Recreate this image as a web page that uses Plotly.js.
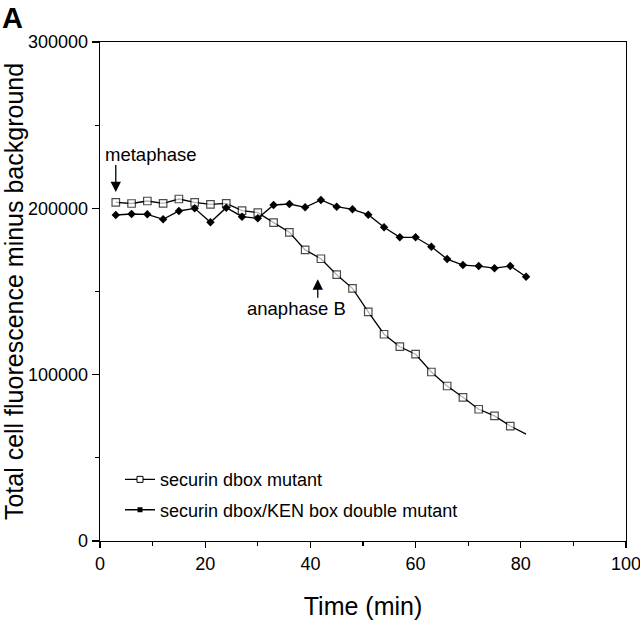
<!DOCTYPE html>
<html>
<head>
<meta charset="utf-8">
<script src="https://cdn.plot.ly/plotly-3.0.1.min.js"></script>
<style>html,body{margin:0;padding:0;background:#fff;}#chart{width:640px;height:620px;}</style>
</head>
<body>
<div id="chart"></div>
<script>
const time = [3,6,9,12,15,18,21,24,27,30,33,36,39,42,45,48,51,54,57,60,63,66,69,72,75,78,81];
const dboxMutant = [203600,202900,204400,203000,205600,203600,202400,203000,198600,197400,191400,
  185600,175000,169700,160100,151900,137700,124300,116800,112300,101600,93200,86400,79200,75200,69100,64300];
const doubleMutant = [196000,196600,196400,193400,198400,200000,191600,200400,195000,194000,202000,
  202600,200600,205000,201000,199400,196200,188600,182600,182600,176900,169500,165900,165300,164000,165300,158900];
const seriesNames = ["securin dbox mutant", "securin dbox/KEN box double mutant"];
const xTickVals = [0,20,40,60,80,100];
const yTickVals = [0,100000,200000,300000];

const FONT = "Liberation Sans, Arial, Helvetica, sans-serif";
const lastIdx = time.length - 1;

const traces = [
  {
    x: time, y: dboxMutant, mode: "lines+markers", showlegend: false,
    line: {color: "#000", width: 1.3},
    marker: {symbol: "square", color: "#ffffff", size: time.map((t,i)=> i===lastIdx ? 0 : 7.5),
             line: {color: "#000", width: 1.2}}
  },
  {
    x: time, y: doubleMutant, mode: "lines+markers", showlegend: false,
    line: {color: "#000", width: 1.3},
    marker: {symbol: "diamond", color: "#000", size: 6.5}
  },
  {
    x: [null], y: [null], mode: "lines+markers", name: seriesNames[0], legendgroup: "a",
    line: {color: "#000", width: 1.3},
    marker: {symbol: "square", color: "#fff", size: 6, line: {color: "#000", width: 1}}
  },
  {
    x: [null], y: [null], mode: "lines+markers", name: seriesNames[1], legendgroup: "b",
    line: {color: "#000", width: 1.3},
    marker: {symbol: "square", color: "#000", size: 5}
  }
];

const layout = {
  width: 640, height: 620,
  margin: {l: 100, r: 14, t: 42, b: 79},
  paper_bgcolor: "#fff", plot_bgcolor: "#fff",
  font: {family: FONT, color: "#000", size: 18},
  showlegend: true,
  legend: {x: 0.038, y: 0.16, xanchor: "left", yanchor: "top", bgcolor: "rgba(0,0,0,0)",
           font: {family: FONT, size: 18, color: "#000"}, traceorder: "grouped", tracegroupgap: 4},
  xaxis: {
    range: [0, 100], tickvals: xTickVals, ticks: "outside", ticklen: 6, tickwidth: 1.2, tickcolor: "#000",
    showline: true, linecolor: "#000", linewidth: 1.3, mirror: true, showgrid: false, zeroline: false,
    minor: {dtick: 10, ticks: "outside", ticklen: 4, tickwidth: 1.2, tickcolor: "#000", showgrid: false},
    tickfont: {family: FONT, size: 18, color: "#000"}, ticklabeloverflow: "allow",
    title: {text: "Time (min)", font: {family: FONT, size: 25, color: "#000"}, standoff: 28}
  },
  yaxis: {
    range: [0, 300000], tickvals: yTickVals, ticks: "outside", ticklen: 7, tickwidth: 1.2, tickcolor: "#000",
    showline: true, linecolor: "#000", linewidth: 1.3, mirror: true, showgrid: false, zeroline: false,
    minor: {dtick: 50000, ticks: "outside", ticklen: 4, tickwidth: 1.2, tickcolor: "#000", showgrid: false},
    tickfont: {family: FONT, size: 18, color: "#000"}, tickformat: "d",
    title: {text: "Total cell fluorescence minus background", font: {family: FONT, size: 25, color: "#000"}, standoff: 4}
  },
  annotations: [
    {xref: "paper", yref: "paper", x: -0.19, y: 1.084, xanchor: "left", yanchor: "top", showarrow: false,
     text: "<b>A</b>", font: {family: FONT, size: 29, color: "#000"}},
    {x: 9.6, y: 232500, xref: "x", yref: "y", showarrow: false, text: "metaphase",
     font: {family: FONT, size: 18.5, color: "#000"}},
    {x: 3, y: 209800, ax: 3, ay: 227000, axref: "x", ayref: "y", xref: "x", yref: "y", text: "",
     showarrow: true, arrowhead: 2, arrowsize: 1.6, arrowwidth: 1.3, arrowcolor: "#000"},
    {x: 37.3, y: 139500, xref: "x", yref: "y", showarrow: false, text: "anaphase B",
     font: {family: FONT, size: 18.5, color: "#000"}},
    {x: 41.4, y: 157300, ax: 41.4, ay: 145300, axref: "x", ayref: "y", xref: "x", yref: "y", text: "",
     showarrow: true, arrowhead: 2, arrowsize: 1.6, arrowwidth: 1.3, arrowcolor: "#000"}
  ]
};

Plotly.newPlot("chart", traces, layout, {displayModeBar: false, staticPlot: true});
</script>
</body>
</html>
